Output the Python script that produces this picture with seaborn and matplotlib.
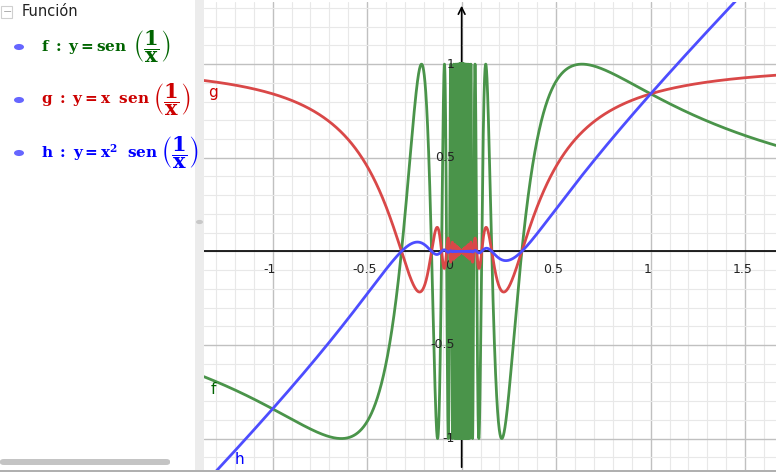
import matplotlib
matplotlib.use('Agg')
import matplotlib.pyplot as plt
import matplotlib.patches as mpatches
import numpy as np
import pandas as pd
import seaborn as sns

# Functions shown in the algebra view
names = ['f', 'g', 'h']
powers = [0, 1, 2]            # y = x^p * sen(1/x)
curve_colors = ['#4a944a', '#d94848', '#4d4dff']
text_colors = ['#006400', '#cc0000', '#0000ff']
prefixes = [r'$\mathbf{f\ :\ y = sen}$',
            r'$\mathbf{g\ :\ y = x\ \ sen}$',
            r'$\mathbf{h\ :\ y = x^2\ \ sen}$']
fraction = r'$\left(\dfrac{\mathbf{1}}{\mathbf{x}}\right)$'
label_pos = [(-1.33, -0.74), (-1.34, 0.85), (-1.2, -1.11)]   # curve name labels

x_ticks = [-1, -0.5, 0.5, 1, 1.5]
x_tick_labels = ['-1', '-0.5', '0.5', '1', '1.5']
y_ticks = [-1, -0.5, 0.5, 1]
y_tick_labels = ['-1', '-0.5', '0.5', '1']

xlim = (-1.363, 1.663)
ylim = (-1.168, 1.332)

sns.set_style('white')
plt.rcParams['font.family'] = ['DejaVu Sans']
plt.rcParams['mathtext.fontset'] = 'dejavuserif'

fig = plt.figure(figsize=(7.76, 4.72), dpi=100)
W, H = 776, 472

# graphics view
ax = fig.add_axes([204 / W, 2 / H, 572 / W, 468 / H])
ax.set_xlim(*xlim)
ax.set_ylim(*ylim)
for s in ax.spines.values():
    s.set_visible(False)
ax.set_xticks([])
ax.set_yticks([])

# grid: minor every 0.1, major every 0.5
for v in np.arange(-1.4, 1.71, 0.1):
    major = abs(v * 2 - round(v * 2)) < 1e-6
    ax.axvline(v, color='#c0c0c0' if major else '#e8e8e8', lw=1.0 if major else 0.8, zorder=0)
for v in np.arange(-1.2, 1.41, 0.1):
    major = abs(v * 2 - round(v * 2)) < 1e-6
    ax.axhline(v, color='#c0c0c0' if major else '#e8e8e8', lw=1.0 if major else 0.8, zorder=0)

# axes
ax.axhline(0, color='black', lw=1.2, zorder=1)
ax.annotate('', xy=(0, ylim[1] - 0.005), xytext=(0, ylim[0]),
            arrowprops=dict(arrowstyle='->', lw=1.2, color='black', mutation_scale=12), zorder=1)

# curves
xs = np.concatenate([np.linspace(-1.4, -0.2, 20000), np.linspace(-0.2, -1e-4, 300000),
                     np.linspace(1e-4, 0.2, 300000), np.linspace(0.2, 1.7, 20000)])
for p, col in zip(powers, curve_colors):
    df = pd.DataFrame({'x': xs, 'y': xs ** p * np.sin(1 / xs)})
    df = df[(df['y'] > -1.5) & (df['y'] < 1.6)]
    sns.lineplot(data=df, x='x', y='y', ax=ax, color=col, lw=2.0, sort=False,
                 estimator=None, zorder=3 + p)

ax.set_xlabel('')
ax.set_ylabel('')

# tick labels
for t, lab in zip(x_ticks, x_tick_labels):
    ax.annotate(lab, (t, 0), xytext=(-2, -13), textcoords='offset points',
                ha='center', va='center', fontsize=9, color='#222222')
ax.annotate('0', (0, 0), xytext=(-9, -10), textcoords='offset points',
            ha='center', va='center', fontsize=9, color='#222222')
for t, lab in zip(y_ticks, y_tick_labels):
    ax.annotate(lab, (0, t), xytext=(-5, 0), textcoords='offset points',
                ha='right', va='center', fontsize=9, color='#222222')

# curve name labels
for n, (lx, ly), col in zip(names, label_pos, text_colors):
    ax.text(lx, ly, n, fontsize=11, color=col, ha='left', va='center')

# algebra view
fig.patches.append(mpatches.Rectangle((195 / W, 0), 9 / W, 1, transform=fig.transFigure,
                                      facecolor='#ececec', edgecolor='none'))
fig.patches.append(mpatches.Circle((199.5 / W, 1 - 222 / H), 3.5 / W, transform=fig.transFigure,
                                   facecolor='#c8c8c8', edgecolor='none'))
fig.patches.append(mpatches.Rectangle((0, 1 - 472 / H), 1, 2 / H, transform=fig.transFigure,
                                      facecolor='#b0b0b0', edgecolor='none'))
fig.patches.append(mpatches.FancyBboxPatch((0, 1 - 465 / H), 170 / W, 6 / H,
                                           boxstyle='round,pad=0,rounding_size=0.005',
                                           transform=fig.transFigure,
                                           facecolor='#c4c4c4', edgecolor='none'))
fig.patches.append(mpatches.Rectangle((0.5 / W, 1 - 18 / H), 11 / W, 12 / H, transform=fig.transFigure,
                                      facecolor='white', edgecolor='#cfcfcf', lw=0.8))
fig.text(3 / W, 1 - 12 / H, '\u2212', fontsize=8, color='#aaaaaa', va='center')
fig.text(22 / W, 1 - 12 / H, 'Función', fontsize=10.5, color='#222222', va='center')

rows = [47, 100, 153]
paren_x = [133, 153, 161]
for y, px, prefix, col in zip(rows, paren_x, prefixes, text_colors):
    fig.patches.append(mpatches.Circle((19 / W, 1 - y / H), 5 / W, transform=fig.transFigure,
                                       facecolor='#6666ff', edgecolor='none'))
    fig.text(41 / W, 1 - y / H, prefix, fontsize=11, color=col, va='center', ha='left')
    fig.text(px / W, 1 - y / H, fraction, fontsize=15, color=col, va='center', ha='left')

fig.savefig('out.png', dpi=100)
